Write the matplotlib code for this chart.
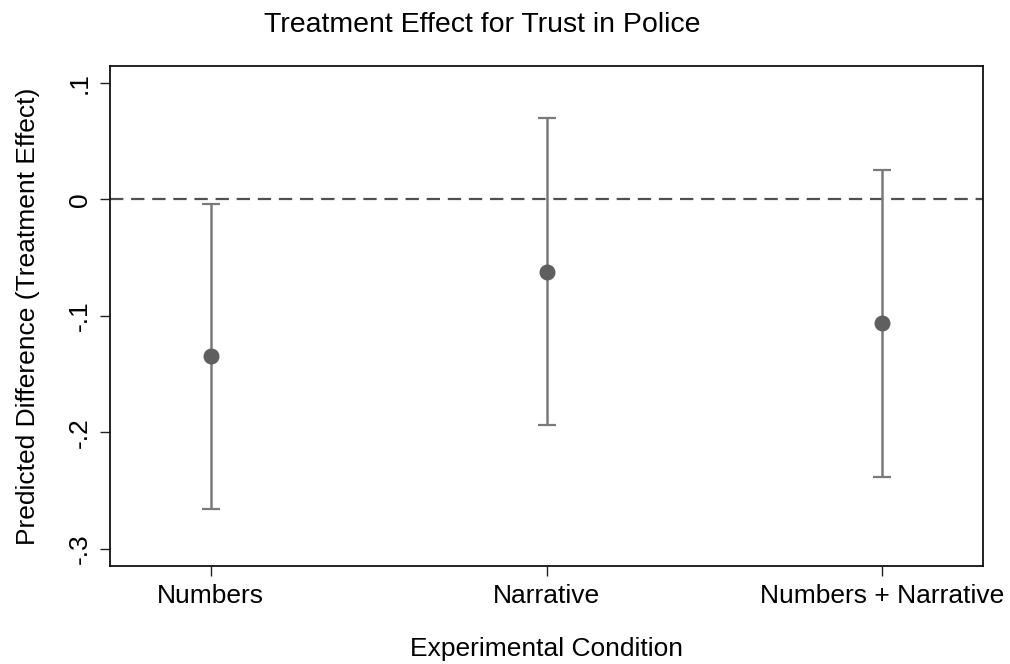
import matplotlib.pyplot as plt
import numpy as np

plt.rcParams['font.family'] = ['Liberation Sans', 'DejaVu Sans']

conditions = ["Numbers", "Narrative", "Numbers + Narrative"]
effect = [-0.134, -0.062, -0.106]
ci_low = [-0.266, -0.194, -0.238]
ci_high = [-0.004, 0.0695, 0.025]
yticks = [0.1, 0, -0.1, -0.2, -0.3]
yticklabels = [".1", "0", "-.1", "-.2", "-.3"]

fig = plt.figure(figsize=(10.1, 6.64), dpi=100)
ax = fig.add_axes([0.1089, 0.148, 0.8644, 0.7526])

x = np.arange(1, len(conditions) + 1)
eff = np.array(effect)
lo = np.array(ci_low)
hi = np.array(ci_high)

ax.axhline(0, color="#505050", lw=1.6, ls=(0, (6, 3.5)), zorder=1)
ax.errorbar(x, eff, yerr=[eff - lo, hi - eff], fmt="none", ecolor="#7a7a7a",
            elinewidth=1.8, capsize=6.5, capthick=1.6, zorder=2)
ax.plot(x, eff, "o", color="#5f5f5f", ms=10.5, zorder=3)

ax.set_xlim(0.7, 3.3)
ax.set_ylim(-0.3143, 0.1143)
ax.set_xticks(x)
ax.set_xticklabels(conditions, fontsize=19)
ax.set_yticks(yticks)
ax.set_yticklabels(yticklabels, fontsize=19, rotation=90, va="center")
ax.tick_params(axis="both", length=7, width=1, color="#222222", pad=6)
for s in ax.spines.values():
    s.set_linewidth(1.3)
    s.set_color("#111111")

fig.text(0.1089 + 0.8644 / 2, 0.022, "Experimental Condition", ha="center", va="center", fontsize=19)
fig.text(0.028, 0.148 + 0.7526 / 2, "Predicted Difference (Treatment Effect)", rotation=90,
         ha="center", va="center", fontsize=19)
fig.text(0.477, 0.963, "Treatment Effect for Trust in Police", ha="center", va="center", fontsize=20.5)

fig.savefig("out.png", dpi=100)
